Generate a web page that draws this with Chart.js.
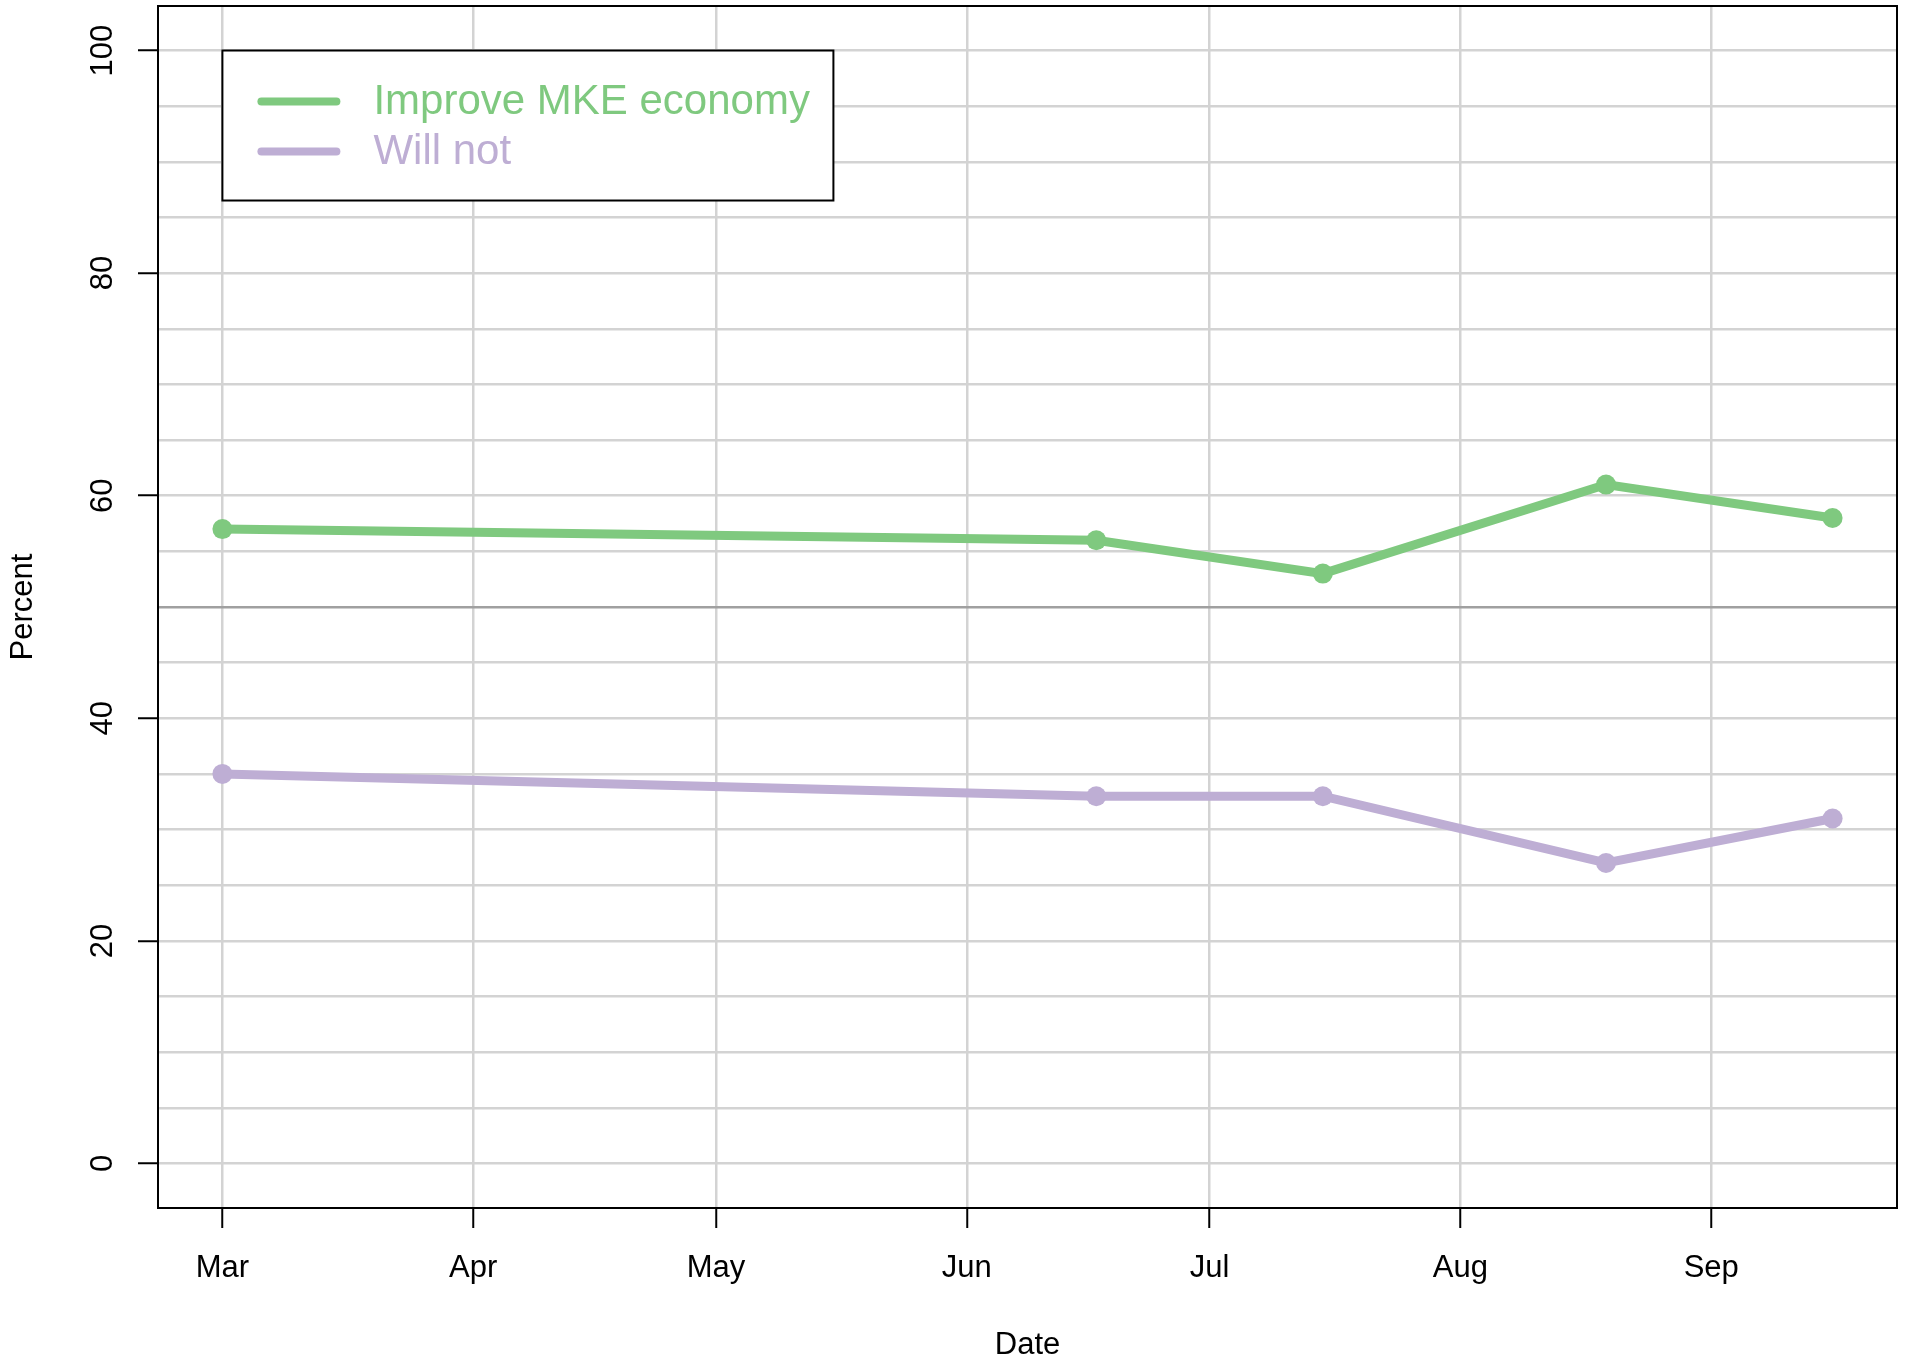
<!DOCTYPE html>
<html lang="en">
<head>
    <meta charset="UTF-8">
    <title>Improve MKE economy</title>
    <script src="https://cdn.jsdelivr.net/npm/chart.js@4.4.1/dist/chart.umd.min.js"></script>
    <style>
        html, body { margin: 0; padding: 0; background: #fff; }
        canvas { display: block; }
    </style>
</head>
<body>
    <canvas id="chart" width="1907" height="1359"></canvas>
    <script>
        // Poll dates and results
        const pollDates = ['2015-03-01', '2015-06-17', '2015-07-15', '2015-08-19', '2015-09-16'];
        const improveValues = [57, 56, 53, 61, 58];
        const willNotValues = [35, 33, 33, 27, 31];

        const seriesNames = ['Improve MKE economy', 'Will not'];
        const seriesColors = ['#7fc97f', '#beaed4'];

        // Axis ticks
        const monthTicks = ['2015-03-01', '2015-04-01', '2015-05-01', '2015-06-01', '2015-07-01', '2015-08-01', '2015-09-01'];
        const monthLabels = ['Mar', 'Apr', 'May', 'Jun', 'Jul', 'Aug', 'Sep'];
        const yGridStep = 5;
        const yLabelStep = 20;
        const yMin = -4, yMax = 104;

        const FONT = "'Liberation Sans', Arial, Helvetica, sans-serif";
        const toDay = s => Date.UTC(+s.slice(0, 4), +s.slice(5, 7) - 1, +s.slice(8, 10)) / 86400000;

        const xDays = pollDates.map(toDay);
        const tickDays = monthTicks.map(toDay);
        const span = xDays[xDays.length - 1] - xDays[0];
        const xMin = xDays[0] - span * 0.04;
        const xMax = xDays[xDays.length - 1] + span * 0.04;

        const yTicks = [];
        for (let v = 0; v <= 100; v += yGridStep) yTicks.push(v);

        const toPoints = vals => vals.map((v, i) => ({ x: xDays[i], y: v }));

        // box around the plot + legend inside it
        const boxPlugin = {
            id: 'plotBox',
            afterDraw(chart) {
                const { ctx, chartArea: a, scales } = chart;
                ctx.save();
                ctx.strokeStyle = '#000';
                ctx.lineWidth = 2;
                ctx.strokeRect(a.left, a.top, a.right - a.left, a.bottom - a.top);

                const lx = scales.x.getPixelForValue(xDays[0]);
                const ly = scales.y.getPixelForValue(100);
                ctx.fillStyle = '#fff';
                ctx.fillRect(lx, ly, 611, 150);
                ctx.strokeRect(lx, ly, 611, 150);
                ctx.font = '42px ' + FONT;
                ctx.textBaseline = 'middle';
                ctx.lineCap = 'round';
                chart.data.datasets.forEach((ds, i) => {
                    const yy = ly + 51 + i * 50;
                    ctx.strokeStyle = ds.borderColor;
                    ctx.lineWidth = 8;
                    ctx.beginPath();
                    ctx.moveTo(lx + 39, yy);
                    ctx.lineTo(lx + 114, yy);
                    ctx.stroke();
                    ctx.fillStyle = ds.borderColor;
                    ctx.fillText(ds.label, lx + 151, yy + 1);
                });
                ctx.restore();
            }
        };

        new Chart(document.getElementById('chart'), {
            type: 'line',
            data: {
                datasets: [improveValues, willNotValues].map((vals, i) => ({
                    label: seriesNames[i],
                    data: toPoints(vals),
                    borderColor: seriesColors[i],
                    backgroundColor: seriesColors[i],
                    pointBackgroundColor: seriesColors[i],
                    pointBorderWidth: 0,
                    pointRadius: 10,
                    borderWidth: 9,
                    tension: 0,
                    fill: false
                }))
            },
            options: {
                responsive: false,
                animation: false,
                layout: { autoPadding: false, padding: { top: 6, right: 10, left: 0, bottom: 0 } },
                plugins: {
                    legend: { display: false },
                    tooltip: { enabled: false }
                },
                scales: {
                    x: {
                        type: 'linear',
                        min: xMin,
                        max: xMax,
                        afterBuildTicks: s => { s.ticks = tickDays.map(v => ({ value: v })); },
                        afterFit: s => { s.height = 151; s.paddingLeft = 0; s.paddingRight = 0; },
                        grid: { color: '#d3d3d3', lineWidth: 2.5, tickColor: '#000', tickWidth: 2, tickLength: 20 },
                        border: { display: false },
                        ticks: {
                            autoSkip: false,
                            maxRotation: 0,
                            padding: 22,
                            color: '#000',
                            font: { family: FONT, size: 31 },
                            callback: v => monthLabels[tickDays.indexOf(v)] || ''
                        },
                        title: {
                            display: true,
                            text: 'Date',
                            color: '#000',
                            font: { family: FONT, size: 31, lineHeight: 1 },
                            padding: { top: 0, bottom: -2 }
                        }
                    },
                    y: {
                        type: 'linear',
                        min: yMin,
                        max: yMax,
                        afterBuildTicks: s => { s.ticks = yTicks.map(v => ({ value: v })); },
                        afterFit: s => { s.width = 158; s.paddingTop = 0; s.paddingBottom = 0; },
                        grid: {
                            color: c => c.tick && c.tick.value === 50 ? '#a0a0a0' : '#d3d3d3',
                            lineWidth: 2.5,
                            tickColor: c => c.tick && c.tick.value % yLabelStep === 0 ? '#000' : 'rgba(0,0,0,0)',
                            tickWidth: 2,
                            tickLength: 20
                        },
                        border: { display: false },
                        ticks: {
                            autoSkip: false,
                            minRotation: 90,
                            maxRotation: 90,
                            crossAlign: 'center',
                            padding: 9,
                            color: '#000',
                            font: { family: FONT, size: 31 },
                            callback: v => (v % yLabelStep === 0 ? String(v) : '')
                        },
                        title: {
                            display: true,
                            text: 'Percent',
                            color: '#000',
                            font: { family: FONT, size: 31, lineHeight: 1 },
                            padding: { top: 8, bottom: 0 }
                        }
                    }
                }
            },
            plugins: [boxPlugin]
        });
    </script>
</body>
</html>
